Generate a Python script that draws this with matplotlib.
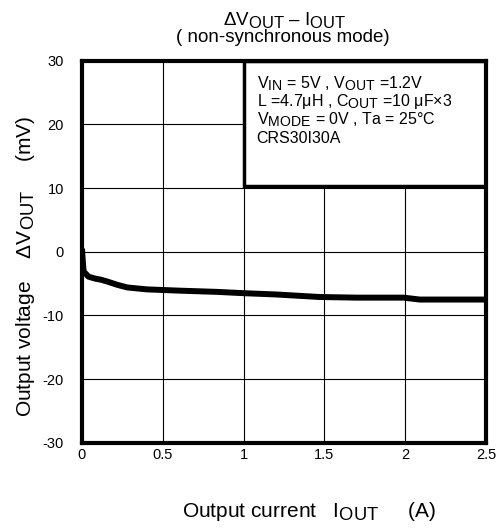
import numpy as np
import matplotlib
matplotlib.use('Agg')
import matplotlib.pyplot as plt
import matplotlib._mathtext as mtext
from matplotlib.patches import Rectangle

plt.rcParams['font.family'] = ['Liberation Sans', 'DejaVu Sans']
plt.rcParams['mathtext.fontset'] = 'custom'
plt.rcParams['mathtext.rm'] = 'Liberation Sans'
plt.rcParams['mathtext.it'] = 'Liberation Sans'
plt.rcParams['axes.unicode_minus'] = False
mtext.SHRINK_FACTOR = 0.88  # subscripts nearly full size, like the datasheet

# data
iout = [0.0, 0.005, 0.01, 0.04, 0.08, 0.12, 0.16, 0.22, 0.28, 0.4, 0.6, 0.84, 1.0, 1.2, 1.47, 1.7, 1.99, 2.09, 2.3, 2.5]
dvout = [0.5, -1.5, -3.1, -3.9, -4.2, -4.4, -4.7, -5.2, -5.6, -5.9, -6.1, -6.3, -6.5, -6.7, -7.1, -7.2, -7.2, -7.5, -7.5, -7.5]
xticks = [0, 0.5, 1, 1.5, 2, 2.5]
xtick_labels = ['0', '0.5', '1', '1.5', '2', '2.5']
yticks = [-30, -20, -10, 0, 10, 20, 30]

fig = plt.figure(figsize=(5.0, 5.29), dpi=100)
ax = fig.add_axes([0.164, 0.163, 0.808, 0.722])

ax.plot(iout, dvout, color='black', lw=4.3, solid_capstyle='butt', zorder=3)

ax.set_xlim(0, 2.5)
ax.set_ylim(-30, 30)
ax.set_xticks(xticks)
ax.set_xticklabels(xtick_labels)
ax.set_yticks(yticks)
ax.tick_params(length=0, labelsize=10.5)
ax.tick_params(axis='y', pad=13)
ax.tick_params(axis='x', pad=4)
ax.grid(True, color='black', lw=0.8)
for s in ax.spines.values():
    s.set_linewidth(3)
    s.set_zorder(5)

# condition box
ax.add_patch(Rectangle((1.0, 10.4), 1.5, 19.6, facecolor='white', edgecolor='black', lw=2.5, zorder=4))
cond = [r'V$_{\mathrm{IN}}$ = 5V , V$_{\mathrm{OUT}}$ =1.2V',
        r'L =4.7$\mu$H , C$_{\mathrm{OUT}}$ =10 $\mu$F$\times$3',
        r'V$_{\mathrm{MODE}}$ = 0V , Ta = 25°C',
        'CRS30I30A']
for k, t in enumerate(cond):
    ax.text(1.08, 26.4 - k * 2.85, t, fontsize=11.5, va='center', ha='left', zorder=6)

fig.text(0.57, 0.963, r'$\Delta$V$_{\mathrm{OUT}}$ – I$_{\mathrm{OUT}}$', ha='center', va='center', fontsize=13.5)
fig.text(0.565, 0.929, '( non-synchronous mode)', ha='center', va='center', fontsize=13.5)
fig.text(0.618, 0.033, r'Output current   I$_{\mathrm{OUT}}$     (A)', ha='center', va='center', fontsize=15)
fig.text(0.052, 0.497, r'Output voltage    $\Delta$V$_{\mathrm{OUT}}$     (mV)', ha='center', va='center',
         rotation=90, fontsize=15)

fig.savefig('out.png', dpi=100)
